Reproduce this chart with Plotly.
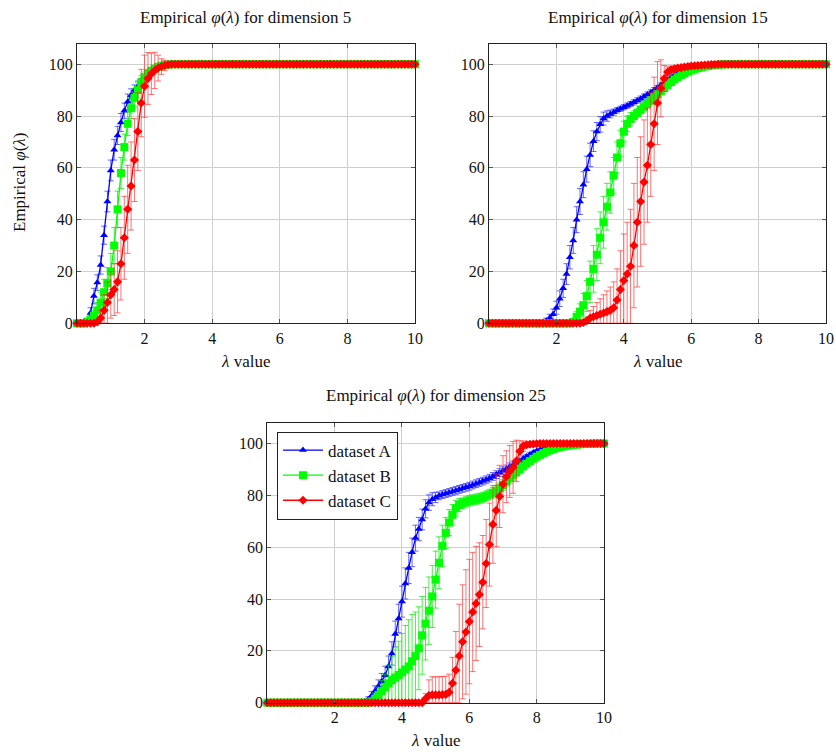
import plotly.graph_objects as go

# lambda grid (0.0 .. 10.0, step 0.1)
lam = [0.0, 0.1, 0.2, 0.3, 0.4, 0.5, 0.6, 0.7, 0.8, 0.9,
       1.0, 1.1, 1.2, 1.3, 1.4, 1.5, 1.6, 1.7, 1.8, 1.9,
       2.0, 2.1, 2.2, 2.3, 2.4, 2.5, 2.6, 2.7, 2.8, 2.9,
       3.0, 3.1, 3.2, 3.3, 3.4, 3.5, 3.6, 3.7, 3.8, 3.9,
       4.0, 4.1, 4.2, 4.3, 4.4, 4.5, 4.6, 4.7, 4.8, 4.9,
       5.0, 5.1, 5.2, 5.3, 5.4, 5.5, 5.6, 5.7, 5.8, 5.9,
       6.0, 6.1, 6.2, 6.3, 6.4, 6.5, 6.6, 6.7, 6.8, 6.9,
       7.0, 7.1, 7.2, 7.3, 7.4, 7.5, 7.6, 7.7, 7.8, 7.9,
       8.0, 8.1, 8.2, 8.3, 8.4, 8.5, 8.6, 8.7, 8.8, 8.9,
       9.0, 9.1, 9.2, 9.3, 9.4, 9.5, 9.6, 9.7, 9.8, 9.9,
       10.0]

H = 100
# ---------------- dimension 5 ----------------
A5 = [0, 0, 0, 1, 4, 10.5, 15.7, 22.5, 34, 47,
      59, 67, 72.5, 77.5, 82, 85.5, 88, 90, 91.5, 93,
      94.5, 96, 97, 98, 98.6, 99.1, 99.5, 99.8, H, H,
      H, H, H, H, H, H, H, H, H, H,
      H, H, H, H, H, H, H, H, H, H,
      H, H, H, H, H, H, H, H, H, H,
      H, H, H, H, H, H, H, H, H, H,
      H, H, H, H, H, H, H, H, H, H,
      H, H, H, H, H, H, H, H, H, H,
      H, H, H, H, H, H, H, H, H, H,
      H]
B5 = [0, 0, 0, 0.5, 1.5, 3, 5, 8, 12, 15.5,
      20, 30, 44, 58, 68, 77, 83, 87, 90, 93,
      95, 96.5, 97.5, 98.3, 99, 99.4, 99.7, 99.9, H, H,
      H, H, H, H, H, H, H, H, H, H,
      H, H, H, H, H, H, H, H, H, H,
      H, H, H, H, H, H, H, H, H, H,
      H, H, H, H, H, H, H, H, H, H,
      H, H, H, H, H, H, H, H, H, H,
      H, H, H, H, H, H, H, H, H, H,
      H, H, H, H, H, H, H, H, H, H,
      H]
C5 = [0, 0, 0, 0, 0, 0, 0.5, 2, 5, 8,
      11, 13, 16, 23, 33, 44, 53, 63, 74, 85,
      91.5, 94.5, 96.3, 97.6, 98.5, 99.1, 99.5, 99.8, H, H,
      H, H, H, H, H, H, H, H, H, H,
      H, H, H, H, H, H, H, H, H, H,
      H, H, H, H, H, H, H, H, H, H,
      H, H, H, H, H, H, H, H, H, H,
      H, H, H, H, H, H, H, H, H, H,
      H, H, H, H, H, H, H, H, H, H,
      H, H, H, H, H, H, H, H, H, H,
      H]
eA5 = [0, 0, 0, 1, 2, 3, 3, 3.5, 3.5, 4,
       4, 4, 3.5, 3.5, 3, 3, 2.5, 2, 2, 1.5,
       1.2, 1, 0.8, 0.6, 0.4, 0.3, 0.2, 0, 0, 0,
       0, 0, 0, 0, 0, 0, 0, 0, 0, 0,
       0, 0, 0, 0, 0, 0, 0, 0, 0, 0,
       0, 0, 0, 0, 0, 0, 0, 0, 0, 0,
       0, 0, 0, 0, 0, 0, 0, 0, 0, 0,
       0, 0, 0, 0, 0, 0, 0, 0, 0, 0,
       0, 0, 0, 0, 0, 0, 0, 0, 0, 0,
       0, 0, 0, 0, 0, 0, 0, 0, 0, 0,
       0]
eB5 = [0, 0, 0, 0.5, 1, 2, 3, 4, 5, 6,
       7, 7, 7, 6, 5, 4.5, 4, 3.5, 3, 2.5,
       2, 1.5, 1.2, 1, 0.7, 0.5, 0.3, 0.2, 0, 0,
       0, 0, 0, 0, 0, 0, 0, 0, 0, 0,
       0, 0, 0, 0, 0, 0, 0, 0, 0, 0,
       0, 0, 0, 0, 0, 0, 0, 0, 0, 0,
       0, 0, 0, 0, 0, 0, 0, 0, 0, 0,
       0, 0, 0, 0, 0, 0, 0, 0, 0, 0,
       0, 0, 0, 0, 0, 0, 0, 0, 0, 0,
       0, 0, 0, 0, 0, 0, 0, 0, 0, 0,
       0]
eC5 = [0, 0, 0, 0, 0, 0, 1, 3, 6, 8,
       9, 10, 12, 14, 16, 17, 17, 16, 15, 13,
       12, 10, 8, 7, 5, 3, 2, 1, 0.5, 0,
       0, 0, 0, 0, 0, 0, 0, 0, 0, 0,
       0, 0, 0, 0, 0, 0, 0, 0, 0, 0,
       0, 0, 0, 0, 0, 0, 0, 0, 0, 0,
       0, 0, 0, 0, 0, 0, 0, 0, 0, 0,
       0, 0, 0, 0, 0, 0, 0, 0, 0, 0,
       0, 0, 0, 0, 0, 0, 0, 0, 0, 0,
       0, 0, 0, 0, 0, 0, 0, 0, 0, 0,
       0]

# ---------------- dimension 15 ----------------
A15 = [0, 0, 0, 0, 0, 0, 0, 0, 0, 0,
       0, 0, 0, 0, 0, 0, 0, 1, 2, 3.5,
       6, 9.5, 13.5, 19, 25.5, 32, 40, 47, 53.5, 59.5,
       65, 70.3, 74, 76.8, 79, 80, 80.8, 81.5, 82.2, 82.8,
       83.4, 84, 84.6, 85.3, 86, 86.7, 87.5, 88.3, 89.1, 90,
       91, 92, 93, 94, 95, 95.8, 96.5, 97.1, 97.7, 98.2,
       98.6, 98.9, 99.2, 99.4, 99.6, 99.7, 99.8, 99.9, H, H,
       H, H, H, H, H, H, H, H, H, H,
       H, H, H, H, H, H, H, H, H, H,
       H, H, H, H, H, H, H, H, H, H,
       H]
B15 = [0, 0, 0, 0, 0, 0, 0, 0, 0, 0,
       0, 0, 0, 0, 0, 0, 0, 0, 0, 0,
       0, 0, 0, 0, 0, 0.5, 2.5, 4.5, 7, 10.5,
       16, 21, 26.5, 33, 39, 45, 50.5, 57, 64, 69.5,
       74, 77, 78.8, 80, 81.2, 82.4, 83.6, 84.8, 86, 87.2,
       88.4, 89.6, 90.8, 92, 93.1, 94.1, 95, 95.8, 96.5, 97.1,
       97.6, 98.1, 98.5, 98.8, 99.1, 99.3, 99.5, 99.7, 99.8, 99.9,
       H, H, H, H, H, H, H, H, H, H,
       H, H, H, H, H, H, H, H, H, H,
       H, H, H, H, H, H, H, H, H, H,
       H]
C15 = [0, 0, 0, 0, 0, 0, 0, 0, 0, 0,
       0, 0, 0, 0, 0, 0, 0, 0, 0, 0,
       0, 0, 0, 0, 0, 0, 0, 0, 0.3, 1,
       2, 2.5, 3, 3.5, 4, 4.5, 5, 6, 9, 13,
       16.5, 19, 22, 30, 39, 47, 54.5, 61, 69, 77,
       85, 90.7, 94.5, 97, 97.8, 98.2, 98.5, 98.7, 98.9, 99.1,
       99.3, 99.4, 99.5, 99.6, 99.7, 99.8, 99.85, 99.9, H, H,
       H, H, H, H, H, H, H, H, H, H,
       H, H, H, H, H, H, H, H, H, H,
       H, H, H, H, H, H, H, H, H, H,
       H]
eA15 = [0, 0, 0, 0, 0, 0, 0, 0, 0, 0,
        0, 0, 0, 0, 0, 0, 0, 1, 1.5, 2,
        2.5, 3, 3.5, 4, 4.5, 5, 5, 5, 5, 5,
        4.5, 4, 3.5, 3, 2.5, 2, 1.5, 1.2, 1, 1,
        1, 1, 1, 1, 1, 1, 1, 1, 1, 1,
        0.8, 0.8, 0.7, 0.6, 0.5, 0.4, 0.3, 0.3, 0.2, 0.2,
        0.1, 0.1, 0.1, 0, 0, 0, 0, 0, 0, 0,
        0, 0, 0, 0, 0, 0, 0, 0, 0, 0,
        0, 0, 0, 0, 0, 0, 0, 0, 0, 0,
        0, 0, 0, 0, 0, 0, 0, 0, 0, 0,
        0]
eB15 = [0, 0, 0, 0, 0, 0, 0, 0, 0, 0,
        0, 0, 0, 0, 0, 0, 0, 0, 0, 0,
        0, 0, 0, 0, 0, 1, 2, 3, 4.5, 6,
        8, 9, 10, 10, 10, 9, 8, 7, 6, 5,
        4, 3, 2.5, 2, 1.5, 1.5, 1.5, 1.5, 1.5, 1.5,
        1.2, 1, 1, 0.8, 0.7, 0.6, 0.5, 0.4, 0.3, 0.3,
        0.2, 0.2, 0.1, 0.1, 0, 0, 0, 0, 0, 0,
        0, 0, 0, 0, 0, 0, 0, 0, 0, 0,
        0, 0, 0, 0, 0, 0, 0, 0, 0, 0,
        0, 0, 0, 0, 0, 0, 0, 0, 0, 0,
        0]
eC15 = [0, 0, 0, 0, 0, 0, 0, 0, 0, 0,
        0, 0, 0, 0, 0, 0, 0, 0, 0, 0,
        0, 0, 0, 0, 0, 0, 0, 0, 0.5, 1,
        3, 4, 5, 6, 7, 8, 9, 10, 12, 15,
        18, 20, 22, 24, 25, 25, 24, 22, 20, 18,
        16, 11, 5, 2, 1.5, 1, 0.8, 0.6, 0.5, 0.4,
        0.3, 0.3, 0.2, 0.2, 0.1, 0.1, 0, 0, 0, 0,
        0, 0, 0, 0, 0, 0, 0, 0, 0, 0,
        0, 0, 0, 0, 0, 0, 0, 0, 0, 0,
        0, 0, 0, 0, 0, 0, 0, 0, 0, 0,
        0]

# ---------------- dimension 25 ----------------
A25 = [0, 0, 0, 0, 0, 0, 0, 0, 0, 0,
       0, 0, 0, 0, 0, 0, 0, 0, 0, 0,
       0, 0, 0, 0, 0, 0, 0, 0, 0, 0.5,
       1.3, 2.8, 4.5, 6.3, 8.3, 10.6, 14, 19, 26.5, 32.5,
       39, 46, 52, 58, 63.5, 67, 70.7, 74.8, 77.2, 78.5,
       79.2, 79.8, 80.3, 80.7, 81.1, 81.5, 81.9, 82.3, 82.7, 83.1,
       83.5, 84, 84.5, 85, 85.5, 86, 86.6, 87.3, 88, 88.8,
       89.5, 90.2, 91, 91.7, 92.5, 93.3, 94.2, 95, 95.8, 96.5,
       97.1, 97.6, 98, 98.4, 98.7, 99, 99.2, 99.4, 99.5, 99.6,
       99.7, 99.8, 99.85, 99.9, 99.95, H, H, H, H, H,
       H]
B25 = [0, 0, 0, 0, 0, 0, 0, 0, 0, 0,
       0, 0, 0, 0, 0, 0, 0, 0, 0, 0,
       0, 0, 0, 0, 0, 0, 0, 0, 0, 0,
       0, 0.5, 1.5, 3, 4.5, 6, 7.5, 8.7, 9.7, 10.7,
       11.7, 12.8, 14, 16, 18, 21, 26, 30.5, 35.5, 41,
       47.5, 54, 60.5, 65.5, 69.5, 72.5, 75, 76.3, 77, 77.5,
       77.9, 78.2, 78.5, 78.8, 79.2, 79.7, 80.3, 81, 81.8, 82.8,
       84, 85.3, 86.6, 87.8, 89, 90.1, 91.2, 92.2, 93.2, 94.1,
       94.9, 95.6, 96.3, 96.9, 97.4, 97.9, 98.3, 98.6, 98.9, 99.1,
       99.3, 99.5, 99.6, 99.7, 99.8, 99.85, 99.9, 99.95, H, H,
       H]
C25 = [0, 0, 0, 0, 0, 0, 0, 0, 0, 0,
       0, 0, 0, 0, 0, 0, 0, 0, 0, 0,
       0, 0, 0, 0, 0, 0, 0, 0, 0, 0,
       0, 0, 0, 0, 0, 0, 0, 0, 0, 0,
       0, 0, 0, 0, 0, 0, 0, 1.5, 2.8, 3,
       3, 3, 3.1, 3.2, 4, 7.5, 12.5, 18, 23.5, 27.3,
       31.3, 35, 38.3, 41.7, 46.5, 53.7, 61, 68.8, 74.2, 79.6,
       84.3, 87.2, 89.2, 90.8, 93.3, 97, 99, 99.5, 99.7, 99.8,
       99.9, H, H, H, H, H, H, H, H, H,
       H, H, H, H, H, H, H, H, H, H,
       H]
eA25 = [0, 0, 0, 0, 0, 0, 0, 0, 0, 0,
        0, 0, 0, 0, 0, 0, 0, 0, 0, 0,
        0, 0, 0, 0, 0, 0, 0, 0, 0, 0.5,
        1, 1.5, 2, 2.5, 3, 3.5, 4, 4.5, 5, 5.5,
        6, 6, 6, 5.5, 5, 4.5, 4, 3.5, 3, 2.5,
        2, 1.5, 1.5, 1.5, 1.5, 1.5, 1.5, 1.5, 1.5, 1.5,
        1.5, 1.5, 1.5, 1.5, 1.5, 1.5, 1.5, 1.5, 1.5, 1.5,
        1.5, 1.5, 1.5, 1.5, 1.2, 1, 1, 0.8, 0.8, 0.6,
        0.5, 0.4, 0.4, 0.3, 0.3, 0.2, 0.2, 0.1, 0.1, 0.1,
        0, 0, 0, 0, 0, 0, 0, 0, 0, 0,
        0]
eB25 = [0, 0, 0, 0, 0, 0, 0, 0, 0, 0,
        0, 0, 0, 0, 0, 0, 0, 0, 0, 0,
        0, 0, 0, 0, 0, 0, 0, 0, 0, 0,
        0, 1, 2, 3, 4, 5, 7, 9, 11, 13,
        15, 17, 18, 18, 17, 16, 15, 14, 13, 12,
        11, 10, 8, 6, 5, 4, 3, 2.5, 2, 2,
        2, 2, 2, 2, 2, 2, 2, 2, 2, 2,
        2, 2, 2, 2, 1.8, 1.6, 1.4, 1.2, 1, 0.8,
        0.7, 0.6, 0.5, 0.4, 0.3, 0.3, 0.2, 0.2, 0.1, 0.1,
        0, 0, 0, 0, 0, 0, 0, 0, 0, 0,
        0]
eC25 = [0, 0, 0, 0, 0, 0, 0, 0, 0, 0,
        0, 0, 0, 0, 0, 0, 0, 0, 0, 0,
        0, 0, 0, 0, 0, 0, 0, 0, 0, 0,
        0, 0, 0, 0, 0, 0, 0, 0, 0, 0,
        0, 0, 0, 0, 0, 0, 0, 2, 6, 7,
        7, 7, 7, 7, 7, 10, 15, 20, 22, 24,
        24, 23, 22, 20, 18, 17, 16, 15, 14, 12,
        11, 10, 10, 10, 8, 4, 2, 1, 0.5, 0.3,
        0.2, 0, 0, 0, 0, 0, 0, 0, 0, 0,
        0, 0, 0, 0, 0, 0, 0, 0, 0, 0,
        0]

names = ["dataset A", "dataset B", "dataset C"]
titles = ["Empirical <i>φ</i>(<i>λ</i>) for dimension 5",
          "Empirical <i>φ</i>(<i>λ</i>) for dimension 15",
          "Empirical <i>φ</i>(<i>λ</i>) for dimension 25"]
xticks = [2, 4, 6, 8, 10]
yticks = [0, 20, 40, 60, 80, 100]

panels = [
    (A5, B5, C5, eA5, eB5, eC5),
    (A15, B15, C15, eA15, eB15, eC15),
    (A25, B25, C25, eA25, eB25, eC25),
]

colors = ["#0000ff", "#00ff00", "#ff0000"]
err_colors = ["rgba(40,40,255,0.7)", "rgba(0,230,0,0.7)", "rgba(255,40,40,0.65)"]
symbols = ["triangle-up", "square", "diamond"]
msizes = [7, 8, 7]

FONT = "Liberation Serif, DejaVu Serif, serif"
W, Hh = 836, 754

fig = go.Figure()
for p, series in enumerate(panels):
    ys = series[:3]
    es = series[3:]
    xa = "x" if p == 0 else f"x{p+1}"
    ya = "y" if p == 0 else f"y{p+1}"
    for k in range(3):
        y = ys[k]
        e = es[k]
        eminus = [min(a, b) for a, b in zip(e, y)]
        fig.add_trace(go.Scatter(
            x=lam, y=y, xaxis=xa, yaxis=ya,
            mode="lines+markers", name=names[k],
            legendgroup=names[k], showlegend=(p == 2),
            line=dict(color=colors[k], width=1.3),
            marker=dict(symbol=symbols[k], size=msizes[k], color=colors[k],
                        line=dict(width=0)),
            error_y=dict(type="data", array=e, arrayminus=eminus, symmetric=False,
                         color=err_colors[k], thickness=1, width=3),
            cliponaxis=False,
        ))

def px_x(px):
    return px / W

def px_y(py):
    return 1 - py / Hh

dom = [
    ([px_x(77), px_x(415)], [px_y(323.3), px_y(44)]),
    ([px_x(489), px_x(826)], [px_y(323.3), px_y(44)]),
    ([px_x(267.3), px_x(604)], [px_y(702.7), px_y(423.3)]),
]

axis_common = dict(
    showline=True, linecolor="#222", linewidth=1, mirror="allticks",
    ticks="inside", ticklen=4, tickcolor="#555", tickwidth=1,
    showgrid=True, gridcolor="#cfcfcf", gridwidth=1, zeroline=False,
    tickfont=dict(family=FONT, size=16, color="#111"),
    automargin=False,
)

layout = dict(
    width=W, height=Hh, autosize=False, margin=dict(l=0, r=0, t=0, b=0, pad=0),
    paper_bgcolor="white", plot_bgcolor="white",
    font=dict(family=FONT, color="#111"),
    legend=dict(x=px_x(277), y=px_y(431.5), xanchor="left", yanchor="top",
                bordercolor="#222", borderwidth=1, bgcolor="white",
                font=dict(family=FONT, size=17), itemwidth=40,
                tracegroupgap=0),
)
for p in range(3):
    sx = "xaxis" if p == 0 else f"xaxis{p+1}"
    sy = "yaxis" if p == 0 else f"yaxis{p+1}"
    ya = "y" if p == 0 else f"y{p+1}"
    xa = "x" if p == 0 else f"x{p+1}"
    layout[sx] = dict(axis_common, domain=dom[p][0], range=[0, 10],
                      tickvals=xticks, anchor=ya)
    layout[sy] = dict(axis_common, domain=dom[p][1], range=[0, 107.8],
                      tickvals=yticks, anchor=xa)

fig.update_layout(**layout)

ann = []
centers = [(77 + 415) / 2, (489 + 826) / 2, (267.3 + 604) / 2]
title_y = [17, 17, 395]
xlabel_y = [362, 362, 740]
for p in range(3):
    ann.append(dict(text=titles[p], x=px_x(centers[p]), y=px_y(title_y[p]),
                    xref="paper", yref="paper", xanchor="center", yanchor="middle",
                    showarrow=False, font=dict(family=FONT, size=17)))
    ann.append(dict(text="<i>λ</i> value", x=px_x(centers[p]), y=px_y(xlabel_y[p]),
                    xref="paper", yref="paper", xanchor="center", yanchor="middle",
                    showarrow=False, font=dict(family=FONT, size=17)))
ann.append(dict(text="Empirical <i>φ</i>(<i>λ</i>)", x=px_x(19), y=px_y(183),
                xref="paper", yref="paper", xanchor="center", yanchor="middle",
                textangle=-90, showarrow=False, font=dict(family=FONT, size=17)))
fig.update_layout(annotations=ann)

fig.write_html(
    "out.html",
    config={"responsive": False, "displayModeBar": False},
    post_script="document.body.style.margin='0';document.body.style.overflow='hidden';",
)
